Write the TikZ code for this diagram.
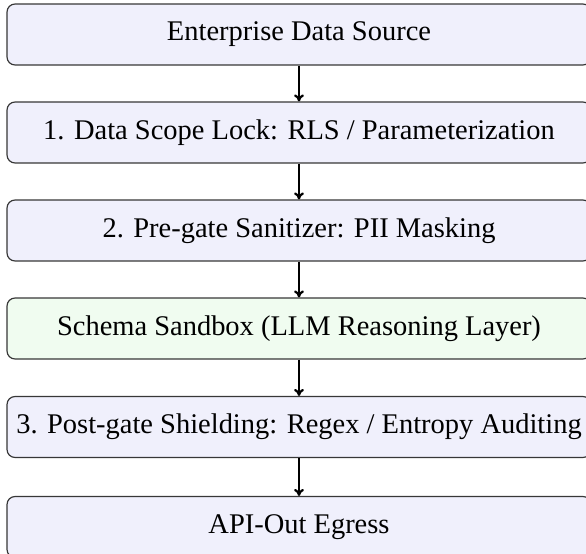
\documentclass[tikz,border=0pt]{standalone}
\usepackage{fontspec}
\setmainfont{Liberation Serif}
\usetikzlibrary{arrows.meta}
\definecolor{stagefill}{RGB}{240,240,252}
\definecolor{llmfill}{RGB}{240,252,240}
\definecolor{stageline}{RGB}{55,55,55}
\begin{document}
\begin{tikzpicture}[x=0.425pt,y=-0.425pt,
  stage/.style={draw=stageline, line width=0.5pt, fill=stagefill, rounded corners=3.4pt,
    minimum width=248.2pt, minimum height=25.9pt, inner sep=0pt,
    font=\fontsize{12.1}{14}\selectfont},
  llm/.style={stage, fill=llmfill},
  flow/.style={-{To[length=3pt,width=4.2pt]}, line width=0.95pt, black}]
  \useasboundingbox (0,0) rectangle (586,554);
  \clip (0,0) rectangle (586,554);
  \node[stage] (src)  at (299,34.5)  {Enterprise Data Source};
  \node[stage] (lock) at (299,132.5) {1. Data Scope Lock: RLS / Parameterization};
  \node[stage] (pre)  at (299,230.5) {2. Pre-gate Sanitizer: PII Masking};
  \node[llm]   (sbx)  at (299,328.5) {Schema Sandbox (LLM Reasoning Layer)};
  \node[stage] (post) at (299,427)   {3. Post-gate Shielding: Regex / Entropy Auditing};
  \node[stage] (out)  at (299,527)   {API-Out Egress};
  \draw[flow] (src) -- (lock);
  \draw[flow] (lock) -- (pre);
  \draw[flow] (pre) -- (sbx);
  \draw[flow] (sbx) -- (post);
  \draw[flow] (post) -- (out);
\end{tikzpicture}
\end{document}
